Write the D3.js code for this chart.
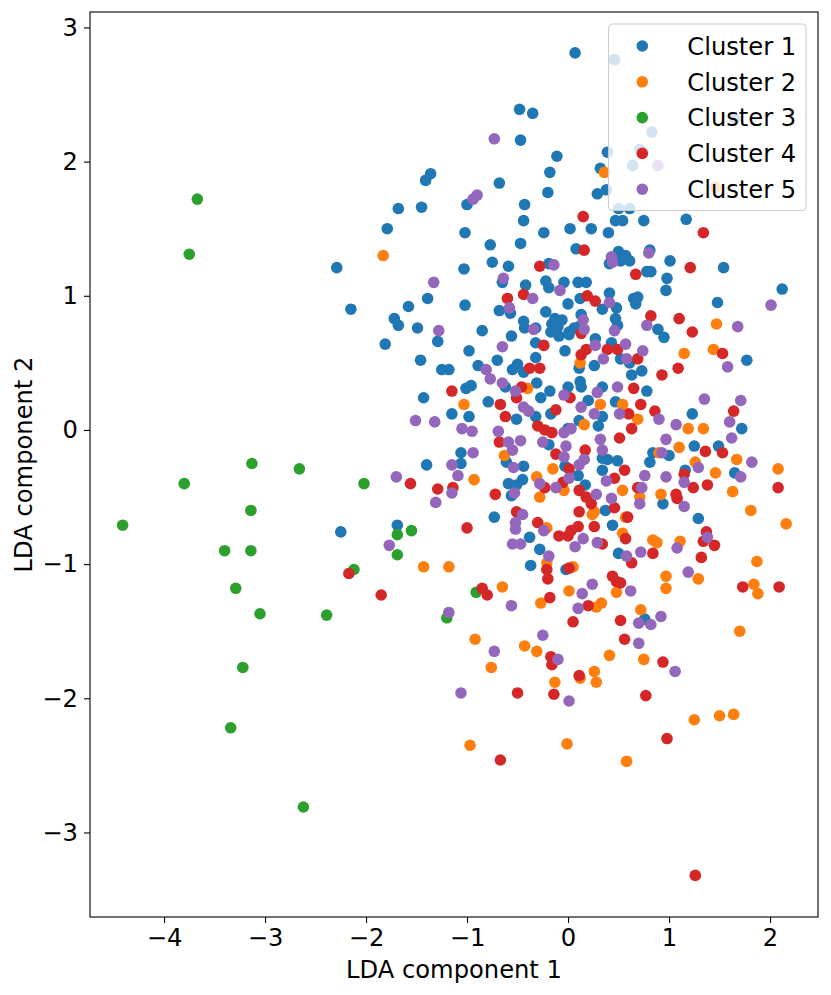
<!DOCTYPE html>
<html><head><meta charset="utf-8">
<script src="https://cdn.jsdelivr.net/npm/d3@7"></script>
<style>
body{margin:0;background:#fff}
text{font-family:"DejaVu Sans",sans-serif}
</style>
</head><body>
<svg id="chart" width="831" height="995"></svg>
<script>
const categories = ["Cluster 1","Cluster 2","Cluster 3","Cluster 4","Cluster 5"];
const colors = ["#1f77b4","#ff7f0e","#2ca02c","#d62728","#9467bd"];
const xTicks = [-4,-3,-2,-1,0,1,2];
const yTicks = [-3,-2,-1,0,1,2,3];
const xLabel = "LDA component 1";
const yLabel = "LDA component 2";

const cluster1 = [[-1.79,1.50],[-2.29,1.21],[-2.15,0.90],[-1.81,0.64],[-2.25,-0.76],[0.07,2.81],[0.46,2.76],[-0.48,2.39],[-0.35,2.36],[1.65,2.32],
[0.83,2.22],[-0.47,2.16],[-0.11,2.04],[0.39,2.07],[0.71,2.09],[0.32,1.95],[0.64,1.97],[-0.18,1.92],[-1.36,1.91],[-1.41,1.86],
[-0.68,1.84],[-0.20,1.77],[0.29,1.76],[0.38,1.79],[-1.68,1.65],[-1.45,1.66],[-1.00,1.68],[-0.43,1.68],[0.50,1.65],[0.61,1.65],
[-1.02,1.47],[-0.77,1.38],[-0.47,1.39],[-0.44,1.56],[-0.75,1.25],[-0.59,1.22],[-1.03,1.20],[-0.65,1.10],[-0.42,1.08],[-1.39,0.98],
[-1.58,0.92],[-1.02,0.93],[-0.68,0.89],[-0.57,0.87],[-1.72,0.83],[-1.68,0.78],[-1.49,0.76],[-0.44,0.81],[-0.43,0.76],[-0.85,0.74],
[-0.56,0.70],[-1.29,0.66],[-0.98,0.59],[-1.46,0.52],[-0.70,0.52],[-0.89,0.48],[-0.50,0.49],[-0.55,0.45],[-1.25,0.45],[-1.18,0.45],
[-0.62,0.32],[-0.96,0.33],[-1.01,0.31],[-1.43,0.24],[-0.79,0.21],[-0.44,0.43],[-0.24,1.47],[0.02,1.50],[0.23,1.50],[0.40,1.47],
[0.47,1.56],[0.54,1.56],[0.75,1.56],[0.08,1.35],[0.50,1.33],[0.57,1.30],[0.61,1.26],[0.52,1.26],[0.81,1.34],[0.41,1.24],
[-0.19,1.24],[1.01,1.26],[0.78,1.18],[0.82,1.18],[0.98,1.13],[0.97,1.04],[-0.22,1.11],[-0.19,1.06],[-0.04,1.10],[0.10,1.10],
[0.18,1.10],[0.41,1.02],[0.12,0.98],[0.00,0.94],[0.65,0.98],[0.69,0.99],[0.67,0.94],[0.48,0.91],[0.34,0.90],[-0.22,0.88],
[0.13,0.86],[0.47,0.83],[0.49,0.78],[-0.13,0.83],[-0.06,0.82],[-0.16,0.79],[-0.10,0.77],[-0.32,0.76],[-0.17,0.73],[-0.09,0.70],
[0.01,0.73],[0.01,0.71],[0.06,0.76],[0.11,0.77],[0.89,0.75],[0.95,0.69],[0.27,0.68],[-0.32,0.65],[-0.03,0.59],[0.43,0.65],
[-0.32,0.54],[0.52,0.53],[0.61,0.50],[0.11,0.46],[0.26,0.48],[0.73,0.44],[0.63,0.41],[-0.31,0.35],[0.12,0.36],[0.13,0.32],
[0.34,0.32],[0.00,0.32],[0.78,0.29],[-0.18,0.29],[-0.27,0.24],[0.20,0.22],[0.47,0.21],[1.17,1.57],[1.54,1.21],[2.12,1.05],
[1.48,0.95],[1.77,0.52],[-1.15,0.12],[-0.98,0.10],[-0.51,0.08],[-1.06,-0.17],[-0.61,-0.24],[-0.44,-0.27],[-1.40,-0.26],[-1.06,-0.25],
[-0.59,-0.40],[-0.51,-0.41],[-0.45,-0.37],[-0.56,-0.49],[-0.73,-0.65],[-1.69,-0.71],[-0.32,0.10],[-0.17,0.12],[0.34,0.10],[0.11,0.07],
[0.30,0.03],[0.00,0.01],[-0.19,-0.11],[0.84,-0.17],[1.00,-0.19],[0.34,-0.21],[0.39,-0.22],[0.49,-0.23],[0.81,-0.24],[-0.03,-0.27],
[0.34,-0.30],[0.10,-0.34],[0.17,-0.41],[0.94,-0.55],[0.37,-0.60],[0.44,-0.71],[0.50,-0.92],[-0.38,-0.80],[-0.28,-0.89],[-0.37,-1.01],
[-0.02,-1.04],[1.23,0.12],[1.72,0.01],[1.25,-0.12],[1.49,-0.12],[1.65,-0.32],[1.16,-0.30],[1.29,-0.66],[0.76,-1.41]];

const cluster2 = [[-1.83,1.30],[0.36,1.92],[1.46,1.81],[-1.03,0.19],[0.12,0.50],[-0.40,0.31],[0.32,0.19],[0.54,0.19],[1.47,0.79],[1.15,0.57],
[1.44,0.60],[-0.63,-0.19],[-0.93,-0.37],[-1.43,-1.02],[-1.18,-1.02],[-0.65,-1.17],[0.69,0.08],[0.16,0.04],[0.90,-0.17],[-0.15,-0.29],
[-0.31,-0.35],[-0.28,-0.50],[-0.04,-0.45],[0.54,-0.45],[0.71,-0.50],[0.92,-0.48],[0.26,-0.61],[0.24,-0.63],[0.57,-0.65],[-0.21,-0.73],
[0.54,-0.77],[0.84,-0.82],[0.88,-0.84],[-0.21,-0.99],[0.05,-1.02],[0.48,-1.21],[0.97,-1.09],[0.97,-1.18],[0.01,-1.20],[1.19,0.01],
[1.34,0.01],[1.10,-0.13],[1.67,-0.22],[1.26,-0.24],[1.46,-0.32],[2.08,-0.29],[1.63,-0.46],[1.81,-0.60],[2.16,-0.70],[1.11,-0.83],
[1.87,-0.98],[1.29,-1.11],[1.84,-1.15],[1.88,-1.22],[-0.92,-1.56],[-0.43,-1.61],[-0.76,-1.77],[-0.97,-2.35],[-0.27,-1.29],[0.28,-1.32],
[0.33,-1.29],[0.72,-1.34],[-0.31,-1.65],[0.41,-1.68],[0.75,-1.71],[0.12,-1.85],[0.26,-1.80],[0.28,-1.88],[-0.13,-1.88],[-0.01,-2.34],
[0.58,-2.47],[1.70,-1.50],[1.25,-2.16],[1.50,-2.13],[1.64,-2.12]];

const cluster3 = [[-3.67,1.72],[-3.75,1.31],[-3.13,-0.25],[-2.66,-0.29],[-3.80,-0.40],[-2.02,-0.40],[-3.14,-0.60],[-4.41,-0.71],[-3.40,-0.90],[-3.14,-0.90],
[-2.12,-1.04],[-3.29,-1.18],[-3.05,-1.37],[-2.39,-1.38],[-3.22,-1.77],[-3.34,-2.22],[-2.62,-2.81],[-1.55,-0.75],[-1.69,-0.78],[-1.69,-0.93],
[-0.91,-1.21],[-1.20,-1.40]];

const cluster4 = [[-2.17,-1.07],[-1.85,-1.23],[-0.60,0.98],[-0.44,1.01],[-1.15,0.29],[-0.46,0.32],[-0.51,0.24],[-0.67,0.19],[0.15,1.59],[0.16,1.34],
[-0.28,1.22],[0.67,1.16],[0.19,1.00],[0.27,0.96],[0.82,0.85],[0.13,0.72],[-0.24,0.63],[0.39,0.60],[0.49,0.60],[0.18,0.60],
[0.13,0.56],[0.69,0.53],[-0.38,0.46],[-0.28,0.46],[0.93,0.41],[0.65,0.31],[0.02,0.24],[0.72,0.19],[1.34,1.47],[1.21,1.21],
[1.10,0.83],[1.23,0.73],[1.53,0.57],[1.09,0.46],[-0.62,0.10],[-0.68,-0.09],[-1.56,-0.40],[-1.29,-0.44],[-1.14,-0.43],[-0.72,-0.48],
[-0.51,-0.61],[-1.00,-0.73],[-0.85,-1.18],[-0.80,-1.23],[-0.12,0.15],[0.60,0.12],[0.86,0.14],[0.63,0.01],[-0.30,0.03],[-0.23,0.00],
[-0.16,-0.02],[0.51,-0.06],[0.17,-0.15],[-0.12,-0.18],[0.01,-0.29],[0.56,-0.30],[0.46,-0.36],[-0.23,-0.43],[-0.05,-0.39],[0.11,-0.45],
[0.18,-0.50],[0.23,-0.55],[0.69,-0.43],[0.46,-0.58],[0.11,-0.61],[0.59,-0.65],[-0.30,-0.69],[0.10,-0.72],[0.03,-0.75],[0.00,-0.79],
[-0.09,-0.79],[0.26,-0.72],[0.57,-0.81],[0.34,-0.85],[0.84,-0.92],[0.63,-0.99],[-0.21,-1.04],[-0.20,-1.11],[0.01,-1.03],[0.44,-1.09],
[0.48,-1.13],[0.52,-1.14],[-0.18,-1.25],[1.64,0.14],[1.36,-0.16],[1.53,-0.17],[1.15,-0.33],[1.24,-0.43],[1.38,-0.41],[1.07,-0.48],
[1.08,-0.51],[2.08,-0.43],[1.37,-0.76],[1.34,-0.83],[1.45,-0.86],[1.32,-0.95],[1.73,-1.17],[2.09,-1.17],[-0.50,-1.96],[-0.67,-2.46],
[0.20,-1.31],[0.05,-1.43],[0.52,-1.42],[0.56,-1.56],[-0.17,-1.69],[-0.16,-1.75],[0.94,-1.73],[0.11,-1.83],[-0.14,-1.97],[0.77,-1.98],
[0.98,-2.30],[1.26,-3.32]];

const cluster5 = [[-0.73,2.17],[-0.90,1.75],[-0.94,1.72],[0.89,1.97],[-1.33,1.10],[-0.64,1.13],[-0.58,0.91],[-1.28,0.74],[-0.65,0.62],[-0.81,0.45],
[-0.77,0.38],[-0.65,0.35],[-0.52,0.29],[0.43,1.29],[0.44,1.25],[0.80,1.32],[-0.14,1.23],[-0.08,1.04],[-0.35,0.98],[0.41,0.95],
[0.15,0.82],[0.78,0.78],[-0.34,0.75],[0.16,0.75],[0.46,0.74],[0.27,0.63],[0.57,0.64],[0.74,0.59],[0.35,0.53],[0.58,0.53],
[0.49,0.32],[0.29,0.28],[-0.04,0.26],[2.01,0.93],[1.68,0.77],[1.58,0.47],[1.35,0.23],[1.71,0.22],[-0.44,0.17],[-1.51,0.07],
[-1.32,0.06],[-1.05,0.01],[-0.95,-0.01],[-0.69,-0.01],[-0.59,-0.09],[-0.47,-0.08],[-0.94,-0.17],[-0.55,-0.15],[-0.54,-0.28],[-1.15,-0.26],
[-1.09,-0.34],[-1.70,-0.35],[-0.53,-0.47],[-1.15,-0.47],[-1.31,-0.54],[-0.45,-0.63],[-0.52,-0.69],[-0.52,-0.74],[-1.77,-0.86],[-0.55,-0.85],
[-0.47,-0.85],[0.13,0.17],[-0.39,0.14],[0.26,0.12],[0.51,0.12],[0.90,0.08],[-0.04,-0.02],[0.03,0.01],[0.32,-0.07],[-0.25,-0.09],
[-0.02,-0.12],[0.34,-0.15],[0.93,-0.17],[0.97,-0.07],[-0.04,-0.20],[0.16,-0.22],[0.11,-0.26],[0.01,-0.36],[0.38,-0.38],[0.76,-0.34],
[0.97,-0.35],[-0.28,-0.40],[-0.12,-0.43],[0.28,-0.48],[0.73,-0.43],[0.71,-0.55],[0.43,-0.51],[-0.24,-0.75],[0.15,-0.81],[0.07,-0.87],
[0.29,-0.84],[0.72,-0.91],[0.58,-0.94],[-0.19,-0.94],[0.24,-1.15],[0.62,-1.20],[0.14,-1.22],[1.07,0.04],[1.60,0.06],[1.62,-0.06],
[1.82,-0.24],[1.29,-0.28],[1.71,-0.35],[1.15,-0.39],[1.15,-0.57],[1.38,-0.80],[1.08,-0.88],[1.19,-1.06],[-0.56,-1.31],[-1.18,-1.36],
[-0.73,-1.65],[-1.06,-1.96],[0.10,-1.33],[0.70,-1.44],[0.82,-1.45],[0.92,-1.39],[-0.25,-1.53],[0.70,-1.59],[-0.10,-1.71],[1.06,-1.80],
[0.01,-2.02]];

const series = [cluster1, cluster2, cluster3, cluster4, cluster5];

const W = 831, H = 995;
const plot = {left: 90, right: 818, top: 12, bottom: 917};
const FONT = 24.2;
const R = 5.8;

const svg = d3.select("#chart");
const x = d3.scaleLinear().domain([-4.733, 2.475]).range([plot.left, plot.right]);
const y = d3.scaleLinear().domain([-3.630, 3.115]).range([plot.bottom, plot.top]);
const fmt = d => d < 0 ? "\u2212" + Math.abs(d) : String(d);

series.forEach((pts, i) => {
  svg.append("g").selectAll("circle").data(pts).join("circle")
    .attr("cx", d => x(d[0])).attr("cy", d => y(d[1])).attr("r", R)
    .attr("fill", colors[i]);
});

const gx = svg.append("g").attr("transform", `translate(0,${plot.bottom})`)
  .call(d3.axisBottom(x).tickValues(xTicks).tickSize(6).tickPadding(6).tickFormat(fmt));
const gy = svg.append("g").attr("transform", `translate(${plot.left},0)`)
  .call(d3.axisLeft(y).tickValues(yTicks).tickSize(6).tickPadding(6).tickFormat(fmt));
[gx, gy].forEach(g => {
  g.select(".domain").remove();
  g.selectAll("line").attr("stroke", "#000").attr("stroke-width", 1.1);
  g.selectAll("text").attr("font-size", FONT).attr("fill", "#000")
    .attr("font-family", "DejaVu Sans");
});

svg.append("rect").attr("x", plot.left).attr("y", plot.top)
  .attr("width", plot.right - plot.left).attr("height", plot.bottom - plot.top)
  .attr("fill", "none").attr("stroke", "#000").attr("stroke-width", 1.1);

svg.append("text").attr("x", (plot.left + plot.right) / 2).attr("y", 978)
  .attr("text-anchor", "middle").attr("font-size", FONT).text(xLabel);
svg.append("text").attr("transform", `translate(32,${(plot.top + plot.bottom) / 2}) rotate(-90)`)
  .attr("text-anchor", "middle").attr("font-size", FONT).text(yLabel);

const lg = svg.append("g");
lg.append("rect").attr("x", 608.5).attr("y", 24).attr("width", 197.5).attr("height", 186.5)
  .attr("rx", 4).attr("fill", "#fff").attr("fill-opacity", 0.8)
  .attr("stroke", "#cccccc").attr("stroke-width", 1.1);
categories.forEach((c, i) => {
  const cy = 46 + i * 35.8;
  lg.append("circle").attr("cx", 642.3).attr("cy", cy).attr("r", R).attr("fill", colors[i]);
  lg.append("text").attr("x", 687.3).attr("y", cy).attr("dy", "0.36em")
    .attr("font-size", FONT).text(c);
});
</script>
</body></html>
